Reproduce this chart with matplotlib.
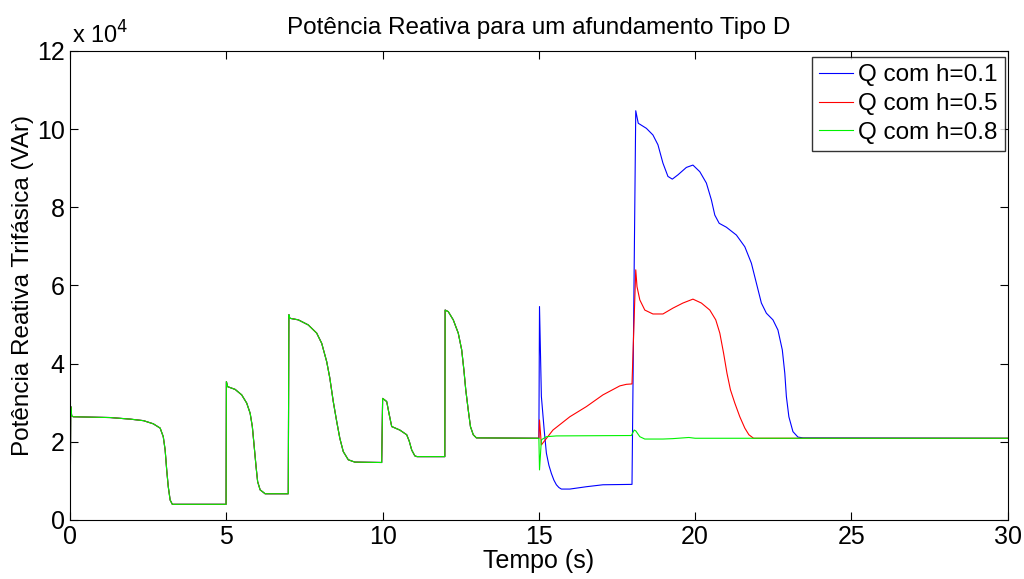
import matplotlib
matplotlib.use("Agg")
import matplotlib.pyplot as plt

plt.rcParams["font.family"] = ["Liberation Sans", "DejaVu Sans"]

# Reactive power, in units of 1e4 VAr. Before the sag at t = 15 s all three runs coincide.
t_common = [0.0, 0.02, 0.05, 0.1, 1.28, 1.92, 2.35, 2.66, 2.88, 2.98, 3.04, 3.09, 3.14,
            3.20, 3.27, 3.3,
            4.99, 5.0, 5.04, 5.28, 5.49, 5.65, 5.76, 5.83, 5.89, 5.95, 6.00, 6.08, 6.24,
            6.98, 7.0, 7.03, 7.30, 7.62, 7.89, 8.05, 8.21, 8.31, 8.42, 8.53, 8.63, 8.74,
            8.90, 9.11,
            9.97, 10.0, 10.13, 10.21, 10.29, 10.55, 10.77, 10.85, 10.93, 11.03, 11.1,
            11.99, 12.0, 12.10, 12.26, 12.42, 12.53, 12.60, 12.66, 12.74, 12.81, 12.90,
            13.0, 15.0]
q_common = [0.0, 2.9, 2.66, 2.64, 2.62, 2.58, 2.54, 2.46, 2.35, 2.13, 1.79, 1.28, 0.85,
            0.51, 0.40, 0.40,
            0.40, 3.54, 3.41, 3.34, 3.20, 2.99, 2.73, 2.39, 1.88, 1.36, 0.98, 0.77, 0.67,
            0.67, 5.25, 5.16, 5.12, 4.99, 4.78, 4.52, 4.05, 3.63, 3.03, 2.52, 2.09, 1.75,
            1.54, 1.48,
            1.47, 3.11, 3.03, 2.70, 2.39, 2.30, 2.18, 2.02, 1.79, 1.64, 1.62,
            1.62, 5.37, 5.33, 5.12, 4.78, 4.35, 3.84, 3.33, 2.81, 2.39, 2.18,
            2.10, 2.09]

t_h01 = [15.0, 15.02, 15.08, 15.17, 15.24, 15.32, 15.40, 15.48, 15.56, 15.64, 15.72, 15.99,
         16.52, 17.05, 17.98,
         18.1, 18.18, 18.44, 18.65, 18.81, 18.97, 19.13, 19.27, 19.45, 19.72, 19.93, 20.15,
         20.36, 20.52, 20.63, 20.77, 21.0, 21.32, 21.59, 21.80, 21.96, 22.12, 22.28, 22.49,
         22.65, 22.79, 22.87, 22.92, 23.0, 23.13, 23.29, 23.45, 30.0]
q_h01 = [2.09, 5.46, 3.16, 2.30, 1.71, 1.40, 1.19, 1.02, 0.90, 0.83, 0.79, 0.79,
         0.85, 0.90, 0.91,
         10.47, 10.15, 10.02, 9.85, 9.60, 9.13, 8.79, 8.72, 8.83, 9.02, 9.08, 8.91,
         8.62, 8.19, 7.80, 7.59, 7.49, 7.29, 6.99, 6.57, 6.06, 5.55, 5.29, 5.12,
         4.86, 4.35, 3.75, 3.16, 2.64, 2.26, 2.12, 2.10, 2.09]

t_h05 = [15.0, 15.02, 15.08, 15.45, 15.99, 16.52, 17.05, 17.59, 17.8, 17.98,
         18.1, 18.14, 18.23, 18.39, 18.65, 18.97, 19.29, 19.61, 19.93, 20.2, 20.47, 20.66,
         20.79, 20.91, 21.02, 21.13, 21.27, 21.43, 21.59, 21.72, 21.87, 30.0]
q_h05 = [2.09, 2.56, 1.92, 2.30, 2.64, 2.90, 3.20, 3.43, 3.47, 3.48,
         6.40, 5.97, 5.63, 5.37, 5.27, 5.27, 5.42, 5.55, 5.65, 5.55, 5.37, 5.12,
         4.78, 4.27, 3.75, 3.33, 2.99, 2.64, 2.35, 2.18, 2.09, 2.09]

t_h08 = [15.0, 15.02, 15.08, 15.24, 15.56, 17.96, 18.05, 18.1, 18.23, 18.39, 18.97, 19.28,
         19.8, 20.0, 30.0]
q_h08 = [2.09, 1.28, 2.05, 2.13, 2.15, 2.16, 2.30, 2.28, 2.13, 2.07, 2.07, 2.08,
         2.11, 2.09, 2.09]

labels = ["Q com h=0.1", "Q com h=0.5", "Q com h=0.8"]

fig, ax = plt.subplots(figsize=(10.24, 5.79), dpi=100)
fig.subplots_adjust(left=0.0685, right=0.984, bottom=0.102, top=0.912)

lw = 0.8
ax.plot(t_common + t_h01, q_common + q_h01, color=(0, 0, 1), lw=lw, label=labels[0])
ax.plot(t_common + t_h05, q_common + q_h05, color=(1, 0, 0), lw=lw, label=labels[1])
ax.plot(t_common + t_h08, q_common + q_h08, color=(0, 0.95, 0), lw=lw, label=labels[2])

ax.set_xlim(0, 30)
ax.set_ylim(0, 12)
ax.set_xticks(range(0, 31, 5))
ax.set_yticks(range(0, 13, 2))
ax.tick_params(direction="in", top=True, right=True, length=6, labelsize=18, width=0.8,
               pad=4)
for s in ax.spines.values():
    s.set_linewidth(0.8)

ax.set_xlabel("Tempo (s)", fontsize=18, labelpad=0)
ax.set_ylabel("Potência Reativa Trifásica (VAr)", fontsize=17.5, labelpad=2)
ax.set_title("Potência Reativa para um afundamento Tipo D", fontsize=17.5, pad=12)
ax.text(0.002, 1.006, r"x 10$^{4}$", transform=ax.transAxes, fontsize=17,
        ha="left", va="bottom")

leg = ax.legend(loc="upper right", bbox_to_anchor=(1 - 3 / 938, 1 - 6 / 469),
                fontsize=17.5, frameon=True, fancybox=False, edgecolor="black",
                handlelength=1.4, handletextpad=0.2, borderpad=0.3,
                labelspacing=0.28, borderaxespad=0.0)
leg.get_frame().set_linewidth(1.0)

fig.savefig("out.png", dpi=100)
